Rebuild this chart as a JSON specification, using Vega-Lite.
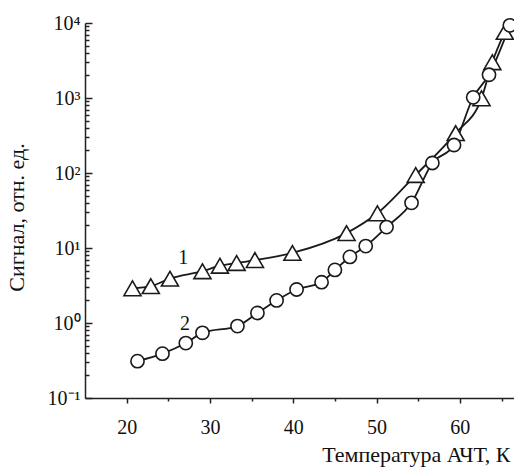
{
  "$schema": "https://vega.github.io/schema/vega-lite/v6.json",
  "width": 429,
  "height": 375,
  "autosize": "none",
  "padding": {"left": 85, "top": 23, "right": 0, "bottom": 69},
  "background": "white",
  "config": {
    "view": {"stroke": null},
    "font": "Liberation Serif",
    "axis": {
      "grid": false,
      "domainColor": "#222",
      "domainWidth": 1.5,
      "tickColor": "#222",
      "tickWidth": 1.5,
      "labelColor": "#111",
      "titleColor": "#111",
      "labelFont": "Liberation Serif",
      "titleFont": "Liberation Serif",
      "titleFontWeight": "normal",
      "labelFontSize": 20,
      "titleFontSize": 22
    }
  },
  "datasets": {
    "pts": [
      {"series": "1", "T": 20.7, "S": 2.9},
      {"series": "1", "T": 22.9, "S": 3.1},
      {"series": "1", "T": 25.2, "S": 3.9},
      {"series": "1", "T": 29.1, "S": 4.9},
      {"series": "1", "T": 31.2, "S": 5.8},
      {"series": "1", "T": 33.2, "S": 6.3},
      {"series": "1", "T": 35.4, "S": 6.9},
      {"series": "1", "T": 39.9, "S": 8.6},
      {"series": "1", "T": 46.4, "S": 15.8},
      {"series": "1", "T": 50.1, "S": 29},
      {"series": "1", "T": 54.7, "S": 94},
      {"series": "1", "T": 59.5, "S": 340},
      {"series": "1", "T": 62.6, "S": 990},
      {"series": "1", "T": 63.9, "S": 3000},
      {"series": "1", "T": 65.4, "S": 7600},
      {"series": "2", "T": 21.3, "S": 0.31},
      {"series": "2", "T": 24.3, "S": 0.39},
      {"series": "2", "T": 27.1, "S": 0.54},
      {"series": "2", "T": 29.1, "S": 0.74},
      {"series": "2", "T": 33.3, "S": 0.91},
      {"series": "2", "T": 35.7, "S": 1.36},
      {"series": "2", "T": 38.0, "S": 2.0},
      {"series": "2", "T": 40.4, "S": 2.8},
      {"series": "2", "T": 43.4, "S": 3.5},
      {"series": "2", "T": 45.0, "S": 5.1},
      {"series": "2", "T": 46.8, "S": 7.6},
      {"series": "2", "T": 48.7, "S": 10.6},
      {"series": "2", "T": 51.2, "S": 19},
      {"series": "2", "T": 54.2, "S": 40},
      {"series": "2", "T": 56.7, "S": 136},
      {"series": "2", "T": 59.3, "S": 236},
      {"series": "2", "T": 61.6, "S": 1020},
      {"series": "2", "T": 63.5, "S": 2040},
      {"series": "2", "T": 66.0, "S": 9300}
    ],
    "labels": [
      {"label": "1", "T": 26.8, "S": 7.4},
      {"label": "2", "T": 27.0, "S": 0.97}
    ]
  },
  "resolve": {"axis": {"x": "independent", "y": "independent"}},
  "layer": [
    {
      "data": {"name": "pts"},
      "mark": {"type": "line", "interpolate": "monotone", "color": "#1a1a1a", "strokeWidth": 1.8, "clip": true},
      "encoding": {
        "x": {
          "field": "T", "type": "quantitative",
          "scale": {"domain": [15, 66.5], "nice": false, "zero": false},
          "axis": {"orient": "bottom", "values": [20, 30, 40, 50, 60], "tickSize": 5, "labelPadding": 14,
                   "title": "Температура АЧТ, К", "titleAnchor": null, "titleAlign": "right", "titleBaseline": "alphabetic", "titleX": 425, "titleY": 63}
        },
        "y": {
          "field": "S", "type": "quantitative",
          "scale": {"type": "log", "domain": [0.1, 10000], "nice": false},
          "axis": {"orient": "left", "values": [0.1, 1, 10, 100, 1000, 10000], "tickSize": -7, "labelPadding": 12,
                   "labelExpr": "datum.value >= 9999 ? '10⁴' : datum.value >= 999 ? '10³' : datum.value >= 99 ? '10²' : datum.value >= 9.9 ? '10¹' : datum.value >= 0.99 ? '10⁰' : '10⁻¹'",
                   "title": "Сигнал, отн. ед.", "titleFontSize": 22, "titleX": -57, "titleY": 194, "titleAnchor": null}
        },
        "detail": {"field": "series"}
      }
    },
    {
      "data": {"name": "pts"},
      "mark": {"type": "point", "filled": true, "fill": "white", "stroke": "#1a1a1a", "strokeWidth": 1.6, "opacity": 1, "clip": false},
      "encoding": {
        "x": {
          "field": "T", "type": "quantitative",
          "axis": {"orient": "bottom", "values": [25, 35, 45, 55, 65], "tickSize": 3, "labels": false, "domain": false, "title": null}
        },
        "y": {
          "field": "S", "type": "quantitative",
          "axis": {"orient": "left", "values": [0.2,0.3,0.4,0.5,0.6,0.7,0.8,0.9,2,3,4,5,6,7,8,9,20,30,40,50,60,70,80,90,200,300,400,500,600,700,800,900,2000,3000,4000,5000,6000,7000,8000,9000],
                   "tickSize": -4, "labels": false, "domain": false, "title": null}
        },
        "shape": {"field": "series", "type": "nominal", "scale": {"domain": ["1", "2"], "range": ["triangle-up", "circle"]}, "legend": null},
        "size": {"field": "series", "type": "nominal", "scale": {"domain": ["1", "2"], "range": [290, 175]}, "legend": null}
      }
    },
    {
      "data": {"name": "labels"},
      "mark": {"type": "text", "font": "Liberation Serif", "fontSize": 20, "color": "#111"},
      "encoding": {
        "x": {"field": "T", "type": "quantitative", "axis": null},
        "y": {"field": "S", "type": "quantitative", "axis": null},
        "text": {"field": "label"}
      }
    }
  ]
}
